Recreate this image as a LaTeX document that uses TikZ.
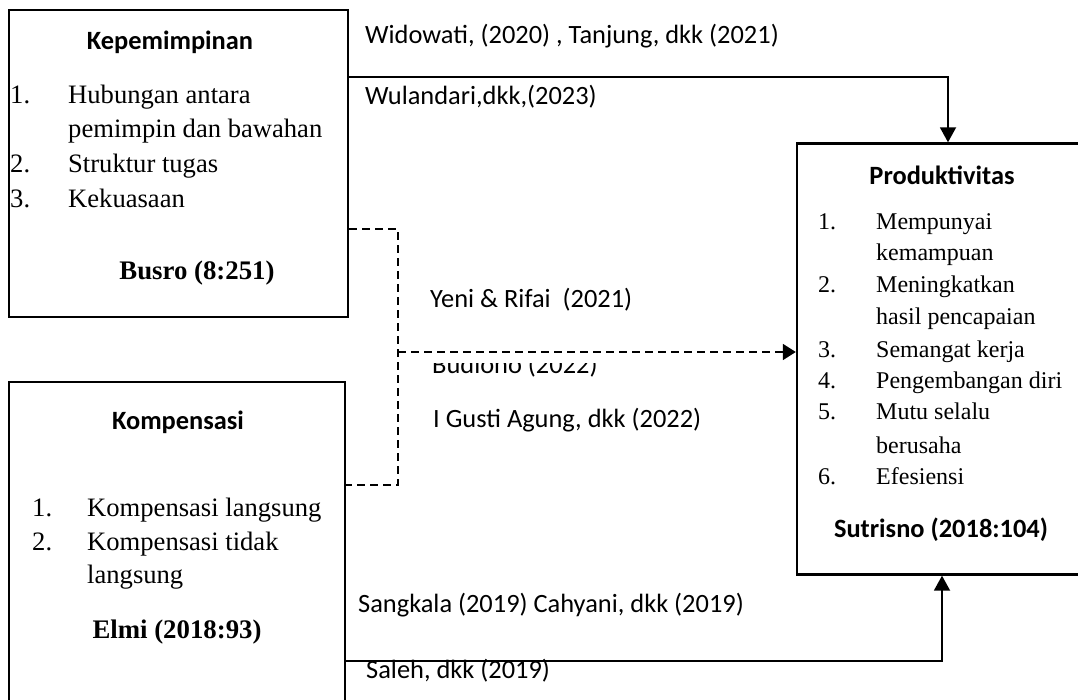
\documentclass[tikz,border=0pt]{standalone}
\usepackage{fontspec}
\setmainfont{Liberation Serif}
\newfontfamily\calfont{Carlito}
\usetikzlibrary{arrows.meta}
\begin{document}
\begin{tikzpicture}[x=1pt,y=-1pt,
  box/.style={draw,line width=2.4pt,inner sep=0pt},
  conn/.style={line width=1.8pt},
  dashconn/.style={line width=1.8pt,dash pattern=on 8pt off 5pt},
  tip/.style={-{Triangle[length=15pt,width=16pt]}},
  dtip/.style={-{Triangle[length=13pt,width=16pt]}},
  ttl/.style={inner sep=0pt,font=\calfont\bfseries\fontsize{26.4}{30}\selectfont},
  cite/.style={inner sep=0pt,anchor=base west,font=\calfont\fontsize{26.4}{30}\selectfont},
  itm/.style={inner sep=0pt,anchor=base west,font=\fontsize{26.6}{30}\selectfont},
  itmr/.style={inner sep=0pt,anchor=base west,font=\fontsize{24}{28}\selectfont},
  src/.style={inner sep=0pt,anchor=base,font=\bfseries\fontsize{26.8}{30}\selectfont},
  srcc/.style={inner sep=0pt,anchor=base,font=\calfont\bfseries\fontsize{26.4}{30}\selectfont}]
\useasboundingbox (0,0) rectangle (1078,700);
\clip (0,0) rectangle (1078,700);
\fill[white] (0,0) rectangle (1078,700);

% boxes
\node[box,minimum width=339pt,minimum height=307pt] (kep) at (178.5,163.5) {};
\node[box,minimum width=336pt,minimum height=340pt] (kom) at (177,552) {};
\node[box,minimum width=293pt,minimum height=431pt] (pro) at (943.5,359) {};

% Kepemimpinan
\node[ttl] (kept) at (170,42) {Kepemimpinan};
\node[itm] (k1n) at (10,104) {1.};
\node[itm] (k1) at (68,104) {Hubungan antara};
\node[itm] (k1b) at (68,138) {pemimpin dan bawahan};
\node[itm] (k2n) at (10,173) {2.};
\node[itm] (k2) at (68,173) {Struktur tugas};
\node[itm] (k3n) at (10,208) {3.};
\node[itm] (k3) at (68,208) {Kekuasaan};
\node[src] (keps) at (197,280) {Busro (8:251)};

% Kompensasi
\node[ttl] (komt) at (178,422) {Kompensasi};
\node[itm] (m1n) at (32,516) {1.};
\node[itm] (m1) at (87,516) {Kompensasi langsung};
\node[itm] (m2n) at (32,550) {2.};
\node[itm] (m2) at (87,550) {Kompensasi tidak};
\node[itm] (m2b) at (87,583) {langsung};
\node[src] (koms) at (177,638) {Elmi (2018:93)};

% Produktivitas
\node[ttl] (prot) at (942,175) {Produktivitas};
\node[itmr] (p1n) at (818,230) {1.};
\node[itmr] (p1) at (876,230) {Mempunyai};
\node[itmr] (p1b) at (876,261) {kemampuan};
\node[itmr] (p2n) at (818,293) {2.};
\node[itmr] (p2) at (876,293) {Meningkatkan};
\node[itmr] (p2b) at (876,324) {hasil pencapaian};
\node[itmr] (p3n) at (818,357) {3.};
\node[itmr] (p3) at (876,357) {Semangat kerja};
\node[itmr] (p4n) at (818,388) {4.};
\node[itmr] (p4) at (876,388) {Pengembangan diri};
\node[itmr] (p5n) at (818,419) {5.};
\node[itmr] (p5) at (876,419) {Mutu selalu};
\node[itmr] (p5b) at (876,453) {berusaha};
\node[itmr] (p6n) at (818,484) {6.};
\node[itmr] (p6) at (876,484) {Efesiensi};
\node[srcc] (pros) at (941,537) {Sutrisno (2018:104)};

% citations
\node[cite] (c1) at (365,44) {Widowati, (2020) , Tanjung, dkk (2021)};
\node[cite] (c2) at (365,105) {Wulandari,dkk,(2023)};
\node[cite] (c3) at (430,308) {Yeni \& Rifai\ \ (2021)};
\begin{scope}
  \clip (380,363) rectangle (780,400);
  \node[cite] (c4) at (432,373) {Budiono (2022)};
\end{scope}
\node[cite] (c5) at (433,427) {I Gusti Agung, dkk (2022)};
\node[cite] (c6) at (358,612) {Sangkala (2019) Cahyani, dkk (2019)};
\node[cite] (c7) at (366,678) {Saleh, dkk (2019)};

% connectors
\coordinate (t1) at (948,77);
\draw[conn,tip] (kep.east |- t1) -- (t1) -- (t1 |- pro.north);

\coordinate (d1) at (398,229);
\coordinate (d2) at (398,485);
\coordinate (d3) at (398,352);
\draw[dashconn] (kep.east |- d1) -- (d1) -- (d2) -- (kom.east |- d2);
\draw[dashconn,dtip] (d3) -- (pro.west |- d3);

\coordinate (b1) at (942,661);
\draw[conn,tip] (kom.east |- b1) -- (b1) -- (b1 |- pro.south);
\end{tikzpicture}
\end{document}
